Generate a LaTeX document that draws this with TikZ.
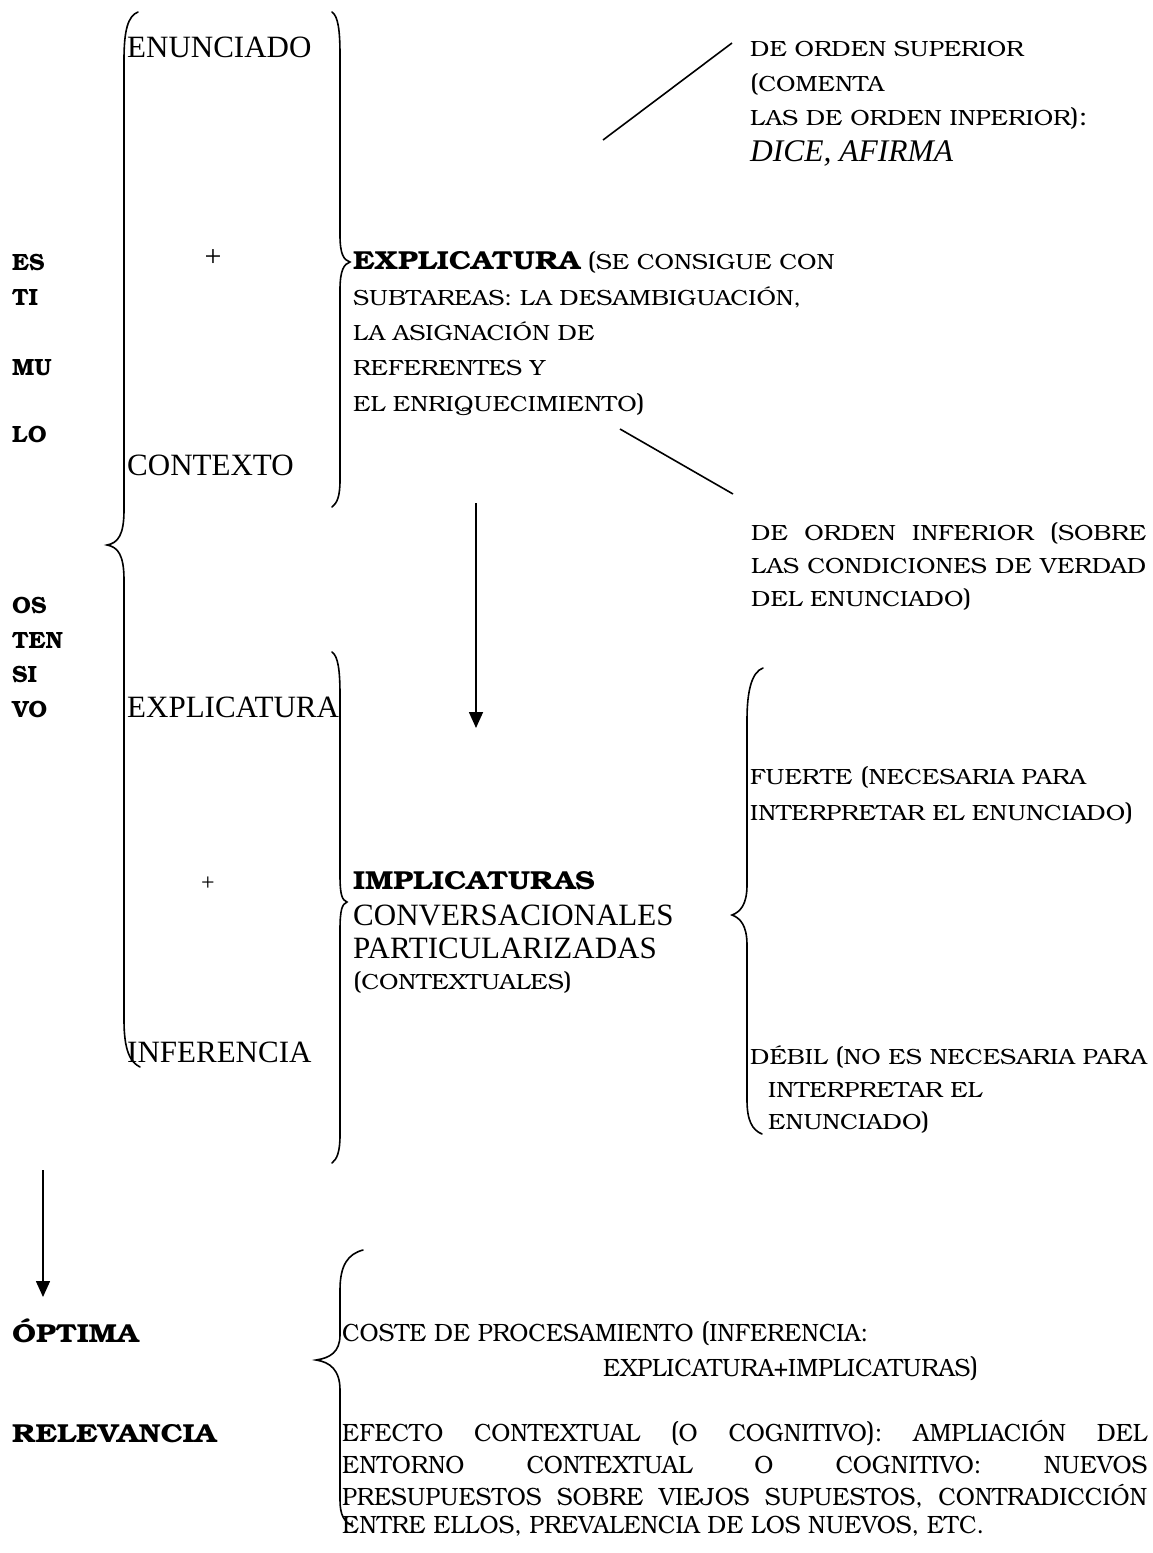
\documentclass[tikz,border=0pt]{standalone}
\usepackage{fontspec}
\setmainfont{texgyrebonum}[Extension=.otf, UprightFont=*-regular, BoldFont=*-bold, ItalicFont=*-italic, BoldItalicFont=*-bolditalic]
\newfontfamily\tnr{Liberation Serif}
\newfontfamily\scf{texgyrebonum}[Extension=.otf, UprightFont=*-regular, FakeStretch=1.10]
\newfontfamily\ccf{texgyrebonum}[Extension=.otf, UprightFont=*-regular, FakeStretch=0.95]
\newfontfamily\bbf{texgyrebonum}[Extension=.otf, UprightFont=*-bold, FakeStretch=1.15]
\usetikzlibrary{arrows.meta}
\newcommand\PL{{\scf\fontsize{25pt}{25pt}\selectfont(}}
\newcommand\PR{{\scf\fontsize{25pt}{25pt}\selectfont)}}
\newcommand\CPL{{\ccf\fontsize{28pt}{28pt}\selectfont(}}
\newcommand\CPR{{\ccf\fontsize{28pt}{28pt}\selectfont)}}
\newcommand\BIG[1]{{\bbf\fontsize{26pt}{26pt}\selectfont #1}}
\tikzset{
  sc/.style={anchor=base west, inner sep=0pt, font=\scf\fontsize{22pt}{22pt}\selectfont},
  csc/.style={anchor=base west, inner sep=0pt, font=\ccf\fontsize{25pt}{25pt}\selectfont},
  tm/.style={anchor=base west, inner sep=0pt, font=\tnr\fontsize{31pt}{31pt}\selectfont},
  bl/.style={anchor=base west, inner sep=0pt, font=\fontsize{23.5pt}{23.5pt}\selectfont\bfseries},
  blbig/.style={anchor=base west, inner sep=0pt, font=\bbf\fontsize{26pt}{26pt}\selectfont},
  br/.style={line width=1.6pt, line cap=round},
  ln/.style={line width=1.6pt},
  arr/.style={line width=1.6pt, -{Triangle[width=14pt,length=16pt]}}
}
\begin{document}
\begin{tikzpicture}[x=1pt,y=-1pt]
\useasboundingbox[fill=white] (0,0) rectangle (1153,1553);

% left vertical word
\node[bl] (es) at (12,270) {ES};
\node[bl] (ti) at (12,305) {TI};
\node[bl] (mu) at (12,375) {MU};
\node[bl] (lo) at (12,442) {LO};
\node[bl] (os) at (12,613) {OS};
\node[bl] (ten) at (12,648) {TEN};
\node[bl] (si) at (12,682) {SI};
\node[bl] (vo) at (12,717) {VO};

% left column inside braces
\node[tm] (enun) at (127,57) {ENUNCIADO};
\node[anchor=center, inner sep=0pt, font=\tnr\fontsize{30pt}{30pt}\selectfont] (plus1) at (213,258) {+};
\node[tm] (ctx) at (127,475) {CONTEXTO};
\node[tm] (expl) at (127,717) {EXPLICATURA};
\node[anchor=center, inner sep=0pt, font=\tnr\fontsize{24pt}{24pt}\selectfont] (plus2) at (208,884) {+};
\node[tm] (infer) at (127,1062) {INFERENCIA};

% explicatura block
\node[sc] (ex1) at (353,269) {\BIG{EXPLICATURA} \PL SE CONSIGUE CON};
\node[sc] (ex2) at (353,305) {SUBTAREAS: LA DESAMBIGUACIÓN,};
\node[sc] (ex3) at (353,340) {LA ASIGNACIÓN DE};
\node[sc] (ex4) at (353,375) {REFERENTES Y};
\node[sc] (ex5) at (353,411) {EL ENRIQUECIMIENTO\PR};

% orden superior
\node[sc] (sup1) at (750,56) {DE ORDEN SUPERIOR};
\node[sc] (sup2) at (750,91) {\PL COMENTA};
\node[sc] (sup3) at (750,125) {LAS DE ORDEN INPERIOR\PR{\scf\fontsize{25pt}{25pt}\selectfont:}};
\node[anchor=base west, inner sep=0pt, font=\tnr\itshape\fontsize{31.5pt}{31.5pt}\selectfont] (sup4) at (750,161) {DICE, AFIRMA};

% orden inferior
\node[sc] (inf1) at (751,540) {\makebox[395pt][s]{DE ORDEN INFERIOR \PL SOBRE}};
\node[sc] (inf2) at (751,573) {\makebox[395pt][s]{LAS CONDICIONES DE VERDAD}};
\node[sc] (inf3) at (751,606) {DEL ENUNCIADO\PR};

% implicaturas
\node[blbig] (imp1) at (353,889) {IMPLICATURAS};
\node[tm] (imp2) at (353,925) {CONVERSACIONALES};
\node[tm] (imp3) at (353,958) {PARTICULARIZADAS};
\node[sc] (imp4) at (353,989) {\PL CONTEXTUALES\PR};

% fuerte / debil
\node[sc] (fu1) at (750,784) {FUERTE \PL NECESARIA PARA};
\node[sc] (fu2) at (750,820) {INTERPRETAR EL ENUNCIADO\PR};
\node[sc] (de1) at (750,1064) {DÉBIL \PL NO ES NECESARIA PARA};
\node[sc] (de2) at (768,1097) {INTERPRETAR EL};
\node[sc] (de3) at (768,1129) {ENUNCIADO\PR};

% optima relevancia
\node[blbig] (opt) at (12,1342) {ÓPTIMA};
\node[blbig] (rel) at (12,1442) {RELEVANCIA};

% coste / efecto
\node[csc] (co1) at (342,1341) {COSTE DE PROCESAMIENTO \CPL INFERENCIA:};
\node[csc] (co2) at (603,1376) {EXPLICATURA+IMPLICATURAS\CPR};
\node[csc] (ef1) at (342,1441) {\makebox[805pt][s]{EFECTO CONTEXTUAL \CPL O COGNITIVO\CPR: AMPLIACIÓN DEL}};
\node[csc] (ef2) at (342,1473) {\makebox[805pt][s]{ENTORNO CONTEXTUAL O COGNITIVO: NUEVOS}};
\node[csc] (ef3) at (342,1505) {\makebox[805pt][s]{PRESUPUESTOS SOBRE VIEJOS SUPUESTOS, CONTRADICCIÓN}};
\node[csc] (ef4) at (342,1533) {ENTRE ELLOS, PREVALENCIA DE LOS NUEVOS, ETC.};

% braces
\draw[br] (138,12) .. controls (128,16) and (124,30) .. (124,60) -- (124,510) .. controls (124,535) and (118,543) .. (107,545) .. controls (118,547) and (124,555) .. (124,580) -- (124,1020) .. controls (124,1050) and (130,1062) .. (140,1067);
\draw[br] (332,12) .. controls (338,16) and (340,30) .. (340,55) -- (340,235) .. controls (340,255) and (344,260) .. (350,262) .. controls (344,264) and (340,270) .. (340,290) -- (340,480) .. controls (340,497) and (337,503) .. (332,507);
\draw[br] (332,652) .. controls (338,656) and (340,670) .. (340,695) -- (340,875) .. controls (340,895) and (342,900) .. (347,902) .. controls (342,904) and (340,910) .. (340,930) -- (340,1135) .. controls (340,1152) and (337,1159) .. (332,1163);
\draw[br] (763,668) .. controls (752,672) and (747,690) .. (747,720) -- (747,885) .. controls (747,905) and (740,912) .. (732,915) .. controls (740,918) and (747,925) .. (747,945) -- (747,1100) .. controls (747,1120) and (752,1130) .. (762,1134);
\draw[br] (363,1250) .. controls (348,1254) and (340,1265) .. (340,1290) -- (340,1335) .. controls (340,1352) and (330,1358) .. (316,1360) .. controls (330,1362) and (340,1370) .. (340,1390) -- (340,1500) .. controls (340,1515) and (344,1522) .. (353,1526);

% slanted lines
\coordinate (s1a) at (603,140);
\coordinate (s1b) at (732,43);
\draw[ln] (s1a) -- (s1b);
\coordinate (s2a) at (620,429);
\coordinate (s2b) at (733,494);
\draw[ln] (s2a) -- (s2b);

% arrows
\coordinate (a1a) at (476,503);
\coordinate (a1b) at (476,728);
\draw[arr] (a1a) -- (a1b);
\coordinate (a2a) at (43,1170);
\coordinate (a2b) at (43,1297);
\draw[arr] (a2a) -- (a2b);
\end{tikzpicture}
\end{document}
